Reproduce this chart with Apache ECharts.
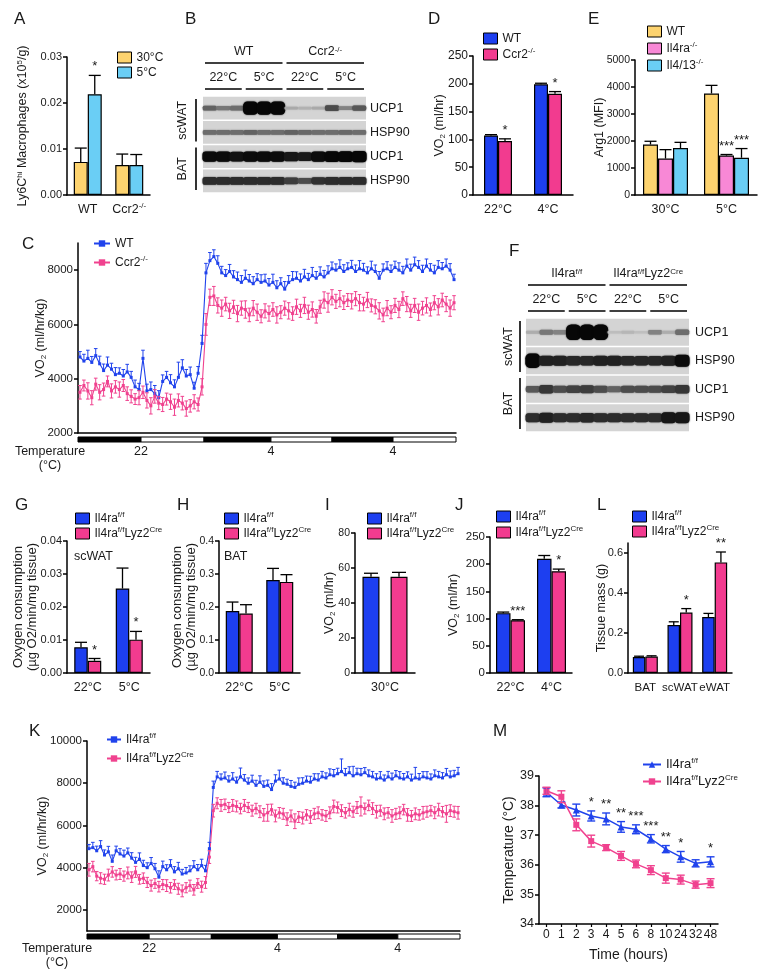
<!DOCTYPE html>
<html><head><meta charset="utf-8">
<script src="https://cdn.jsdelivr.net/npm/echarts@6/dist/echarts.min.js"></script>
<style>html,body{margin:0;padding:0;background:#fff}#c{width:760px;height:978px}</style>
</head><body><div id="c"></div>
<script>
// ================= DATA =================
// Panel A
const A_categories = ['WT', 'Ccr2^{-/-}'];
const A_30C = [0.0072, 0.0065];
const A_30C_err = [0.0030, 0.0024];
const A_5C = [0.0219, 0.0065];
const A_5C_err = [0.0041, 0.0023];
const A_5C_stars = ['*', ''];
const A_ticks = [0, 0.01, 0.02, 0.03];
// Panel D
const D_categories = ['22°C', '4°C'];
const D_WT = [107, 199];
const D_WT_err = [1.5, 2];
const D_Ccr2 = [97, 182];
const D_Ccr2_err = [4, 4];
const D_Ccr2_stars = ['*', '*'];
const D_ticks = [0, 50, 100, 150, 200, 250];
// Panel E
const E_categories = ['30°C', '5°C'];
const E_WT = [1870, 3760];
const E_WT_err = [120, 300];
const E_Il4ra = [1350, 1460];
const E_Il4ra_err = [330, 40];
const E_Il4ra_stars = ['', '***'];
const E_Il413 = [1740, 1380];
const E_Il413_err = [210, 340];
const E_Il413_stars = ['', '***'];
const E_ticks = [0, 1000, 2000, 3000, 4000, 5000];
// Panel G
const G_categories = ['22°C', '5°C'];
const G_ff = [0.0078, 0.0256];
const G_ff_err = [0.0015, 0.0062];
const G_cre = [0.0037, 0.0101];
const G_cre_err = [0.0007, 0.0025];
const G_cre_stars = ['*', '*'];
const G_ticks = [0, 0.01, 0.02, 0.03, 0.04];
// Panel H
const H_categories = ['22°C', '5°C'];
const H_ff = [0.188, 0.282];
const H_ff_err = [0.027, 0.035];
const H_cre = [0.180, 0.276];
const H_cre_err = [0.027, 0.022];
const H_ticks = [0, 0.1, 0.2, 0.3, 0.4];
// Panel I
const I_categories = ['30°C'];
const I_ff = [55];
const I_ff_err = [2];
const I_cre = [55];
const I_cre_err = [2.5];
const I_ticks = [0, 20, 40, 60, 80];
// Panel J
const J_categories = ['22°C', '4°C'];
const J_ff = [110, 210];
const J_ff_err = [2, 6];
const J_cre = [97, 187];
const J_cre_err = [1, 4];
const J_cre_stars = ['***', '*'];
const J_ticks = [0, 50, 100, 150, 200, 250];
// Panel L
const L_categories = ['BAT', 'scWAT', 'eWAT'];
const L_ff = [0.080, 0.240, 0.280];
const L_ff_err = [0.004, 0.016, 0.018];
const L_cre = [0.082, 0.302, 0.553];
const L_cre_err = [0.004, 0.020, 0.052];
const L_cre_stars = ['', '*', '**'];
const L_ticks = [0, 0.2, 0.4, 0.6];
// Panel C (VO2 time course, 96 points)
const C_WT = [
 4800,4650,4750,4600,4850,4550,4300,4500,4350,4150,4200,4100,4250,4050,3700,3600,
 4750,3550,3600,3450,3300,3900,4050,3850,3700,4050,4400,4100,4150,3650,4200,5300,
 7900,8350,8500,8250,7900,7800,7950,7750,7650,7550,7700,7600,7500,7650,7550,7600,
 7450,7550,7350,7500,7300,7550,7650,7700,7600,7750,7650,7800,7700,7850,7750,7900,
 8050,8000,8100,7950,8050,8100,7950,8050,8000,7900,8050,7950,7700,8000,8050,7950,
 8100,8000,7900,8150,8000,8200,8100,7950,8150,8000,7900,8100,8050,8150,8000,7650];
const C_WT_err = [
 200,250,300,220,260,280,240,300,220,260,200,240,280,220,250,230,
 300,250,280,300,260,240,220,300,260,560,300,240,280,220,250,300,
 350,300,250,280,240,220,260,230,280,250,300,240,260,220,280,250,
 240,300,260,220,280,250,300,240,260,280,230,300,250,270,240,260,
 250,230,280,250,220,260,240,300,250,220,280,240,250,230,260,240,
 230,270,240,260,220,280,250,230,260,240,280,250,230,260,240,200];
const C_Ccr2 = [
 3500,3750,3550,3300,3800,3500,3600,3900,3550,3700,3600,3750,3450,3350,3250,3300,
 3500,3200,3000,3350,3100,3050,3250,3150,2950,3200,3100,2900,3000,3150,3050,3700,
 6000,7000,7050,6700,6600,6750,6500,6650,6400,6600,6550,6350,6600,6450,6300,6500,
 6400,6550,6350,6450,6600,6500,6400,6650,6500,6700,6450,6550,6300,6650,6900,6800,
 7000,6850,6950,6800,6900,6850,6950,6800,6750,6900,6700,6650,6500,6350,6600,6450,
 6700,6550,6950,6750,6500,6700,6450,6600,6700,6550,6800,6650,6900,6750,6600,6800];
const C_Ccr2_err = [
 250,200,300,260,220,280,240,200,260,230,280,220,250,240,200,260,
 230,280,300,250,240,260,220,280,300,240,250,280,230,260,240,300,
 400,300,350,280,300,250,280,240,300,260,320,250,280,300,240,260,
 280,250,300,240,260,300,250,280,240,300,260,280,250,240,300,350,
 280,260,300,250,240,280,260,300,250,280,240,260,300,250,280,240,
 260,300,250,280,240,260,300,250,280,240,260,300,250,280,300,260];
const C_ticks = [2000, 4000, 6000, 8000];
// Panel K (VO2 time course, 96 points)
const K_ff = [
 4900,4950,4800,5000,4600,4750,4300,4800,4650,4550,4700,4450,4250,4400,4100,4000,
 4200,3950,3550,4050,3900,4100,3800,3950,3700,3750,3850,4050,3900,4100,3850,4900,
 7800,8300,8200,8250,8100,8200,8050,8300,8150,8000,8100,7900,8050,7850,7900,7700,
 8100,8200,8000,7950,7850,7800,7950,8000,8100,8050,8200,8150,8300,8250,8400,8350,
 8450,8550,8400,8500,8350,8450,8400,8500,8350,8300,8200,8250,8150,8300,8200,8350,
 8250,8200,8300,8150,8250,8200,8300,8250,8200,8350,8300,8250,8400,8300,8350,8450];
const K_ff_err = [
 200,250,220,280,240,260,300,220,250,280,230,260,240,300,250,230,
 280,250,300,260,240,280,250,300,220,260,240,280,250,300,260,300,
 300,260,240,280,250,300,240,420,260,250,280,240,300,260,250,280,
 300,420,260,240,280,250,300,260,240,280,250,300,260,240,280,300,
 260,600,300,280,450,260,300,240,280,260,250,300,240,260,280,250,
 300,260,240,280,500,260,250,300,240,280,260,250,300,280,260,300];
const K_cre = [
 3900,4050,3600,3500,3450,3650,3800,3650,3700,3600,3750,3550,3800,3450,3500,3300,
 3150,3250,3100,3200,3150,3050,3200,3000,2900,3050,3150,2950,3250,3100,3300,4500,
 6700,7050,6950,7000,6850,6950,6900,6800,6950,6850,6700,6800,6650,6500,6600,6750,
 6450,6600,6550,6300,6450,6200,6400,6350,6500,6400,6550,6600,6500,6450,6600,6900,
 6850,6700,6600,6750,6650,6850,6900,6800,6950,6800,6650,6700,6550,6600,6450,6550,
 6600,6750,6500,6450,6550,6500,6600,6650,6700,6600,6750,6650,6550,6700,6650,6600];
const K_cre_err = [
 300,250,220,260,240,280,250,230,260,240,280,250,260,230,250,240,
 260,230,250,240,280,250,230,260,280,240,260,250,230,260,280,300,
 300,260,280,250,240,280,260,250,280,240,260,250,280,300,400,260,
 280,250,260,300,280,350,260,280,250,300,260,280,250,260,280,300,
 260,280,250,300,260,280,450,260,250,280,300,260,280,250,300,260,
 280,250,300,260,280,250,300,260,250,280,300,250,400,280,260,300];
const K_ticks = [2000, 4000, 6000, 8000, 10000];
// light/dark cycle bar (in sample-index units) and temperature labels for C and K
const LD_start = [-0.5, 15.5, 31.5, 48.5, 64, 79.5];
const LD_end = [15.5, 31.5, 48.5, 64, 79.5, 95.5];
const LD_dark = [1, 0, 1, 0, 1, 0];
const TEMP_at = [15.5, 48.5, 79.5];
const TEMP_text = ['22', '4', '4'];
// Panel M
const M_hours = ['0','1','2','3','4','5','6','8','10','24','32','48'];
const M_ff = [38.45, 38.02, 37.85, 37.65, 37.55, 37.28, 37.2, 36.88, 36.53, 36.27, 36.05, 36.1];
const M_ff_err = [0.15, 0.1, 0.2, 0.17, 0.2, 0.18, 0.15, 0.14, 0.12, 0.18, 0.12, 0.17];
const M_cre = [38.5, 38.3, 37.35, 36.8, 36.58, 36.3, 36.03, 35.82, 35.55, 35.5, 35.33, 35.38];
const M_cre_err = [0.12, 0.2, 0.2, 0.2, 0.1, 0.15, 0.13, 0.15, 0.17, 0.15, 0.12, 0.15];
const M_stars = ['', '', '', '*', '**', '**', '***', '***', '**', '*', '', '*'];
const M_ticks = [34, 35, 36, 37, 38, 39];
// Blot B (band intensities 0..1, 12 lanes)
const B_rows = ['UCP1', 'HSP90', 'UCP1', 'HSP90'];
const B_scWAT_UCP1 = [0.45,0.35,0.4,1,1,1,0.12,0.08,0.12,0.55,0.3,0.5];
const B_scWAT_HSP90 = [0.4,0.4,0.4,0.45,0.4,0.4,0.45,0.42,0.4,0.4,0.42,0.4];
const B_BAT_UCP1 = [0.85,0.85,0.82,0.85,0.85,0.85,0.8,0.78,0.85,0.88,0.88,0.9];
const B_BAT_HSP90 = [0.7,0.7,0.7,0.7,0.7,0.7,0.62,0.55,0.68,0.7,0.7,0.7];
const B_genotypes = ['WT', 'Ccr2^{-/-}'];
const B_temps = ['22°C', '5°C', '22°C', '5°C'];
const B_tissues = ['scWAT', 'BAT'];
// Blot F
const F_rows = ['UCP1', 'HSP90', 'UCP1', 'HSP90'];
const F_scWAT_UCP1 = [0.1,0.35,0.3,1,1,1,0.03,0.06,0.02,0.3,0.1,0.4];
const F_scWAT_HSP90 = [0.95,0.75,0.75,0.72,0.72,0.75,0.75,0.72,0.72,0.72,0.75,0.85];
const F_BAT_UCP1 = [0.5,0.65,0.55,0.6,0.62,0.55,0.45,0.55,0.55,0.55,0.6,0.65];
const F_BAT_HSP90 = [0.7,0.75,0.7,0.7,0.72,0.7,0.7,0.7,0.7,0.7,0.8,0.8];
const F_genotypes = ['Il4ra^{f/f}', 'Il4ra^{f/f}Lyz2^{Cre}'];
const F_temps = ['22°C', '5°C', '22°C', '5°C'];
const F_tissues = ['scWAT', 'BAT'];

// ================= STYLE / BUILD =================
const FONT = 'Arial, "Liberation Sans", Helvetica, sans-serif';
const TXT = '#1a1a1a';
const BLUE = '#1d3ff0', PINK = '#f23b8f', ORANGE = '#fdd36f', CYAN = '#6acef5', LPINK = '#f888d6';
const LBLUE = '#2043ec', LPNK = '#f0428f';
const RICH = {
  sup: {fontSize: 8, verticalAlign: 'top', lineHeight: 8, color: TXT, fill: TXT, fontFamily: FONT},
  sub: {fontSize: 8, verticalAlign: 'bottom', lineHeight: 8, color: TXT, fill: TXT, fontFamily: FONT}
};
function rt(s) { return s.replace(/\^\{([^}]*)\}/g, '{sup|$1}').replace(/_\{([^}]*)\}/g, '{sub|$1}'); }
const LABELS = {};
const grid = [], xAxis = [], yAxis = [], series = [], legend = [], graphic = [];
const AXL = {show: true, onZero: false, lineStyle: {color: '#000', width: 1.5}};

function valueY(gi, p) {
  return {type: 'value', gridIndex: gi, min: p.yMin || 0, max: p.yMax, axisLine: AXL,
    axisTick: {show: true, length: 4, lineStyle: {color: '#000', width: 1.5}, customValues: p.ticks},
    axisLabel: {customValues: p.ticks, fontSize: p.tickFont || 11, color: TXT, margin: 5, fontFamily: FONT,
      formatter: p.fmt || (v => String(v))},
    splitLine: {show: false},
    name: rt(p.yName), nameLocation: 'middle', nameRotate: 90, nameGap: p.nameGap, nameMoveOverlap: false,
    nameTextStyle: {fontSize: p.nameFont || 12.5, color: TXT, rich: RICH, lineHeight: 14, fontFamily: FONT}};
}

function errSeries(gi, vals, errs, stars, off, cap, up, down, lw, color) {
  return {type: 'custom', xAxisIndex: gi, yAxisIndex: gi, z: 5, silent: true, clip: false,
    data: vals.map((v, i) => [i, v, errs[i]]),
    renderItem: (params, api) => {
      const i = api.value(0), v = api.value(1), e = api.value(2);
      if (isNaN(e)) return null;
      const c = api.coord([i, v]);
      const x = c[0] + off;
      const yt = api.coord([i, v + e])[1];
      const yb = api.coord([i, v - e])[1];
      const st = {stroke: color || '#000', lineWidth: lw || 1.3};
      const ch = [{type: 'line', shape: {x1: x, y1: up ? yt : c[1], x2: x, y2: down ? yb : c[1]}, style: st}];
      if (up) ch.push({type: 'line', shape: {x1: x - cap, y1: yt, x2: x + cap, y2: yt}, style: st});
      if (down) ch.push({type: 'line', shape: {x1: x - cap, y1: yb, x2: x + cap, y2: yb}, style: st});
      const s = stars && stars[params.dataIndex];
      if (s) ch.push({type: 'text', x: x, y: yt - 2, style: {text: s, fill: TXT, font: '13px ' + FONT, align: 'center', verticalAlign: 'bottom'}});
      return {type: 'group', children: ch};
    }};
}

function addLegend(names, left, top, gap, extra) {
  legend.push(Object.assign({data: names, left: left, top: top, orient: 'vertical', padding: 0, itemGap: gap,
    itemWidth: 14, itemHeight: 11, selectedMode: false, formatter: n => LABELS[n],
    textStyle: {fontSize: 12, color: TXT, fontFamily: FONT, rich: RICH, lineHeight: 15}}, extra || {}));
}

function addBarPanel(p) {
  const gi = grid.length;
  grid.push({left: p.box[0], top: p.box[1], width: p.box[2], height: p.box[3]});
  xAxis.push({type: 'category', gridIndex: gi, data: p.categories, axisLine: AXL, axisTick: {show: false},
    axisLabel: {margin: 7, fontSize: p.catFont || 12.5, color: TXT, fontFamily: FONT, formatter: v => rt(v), rich: RICH, lineHeight: 15, interval: 0}});
  yAxis.push(valueY(gi, p));
  const n = p.series.length, names = [];
  const step = p.step || p.barWidth;
  p.series.forEach((s, k) => {
    const name = p.id + ':' + s.label;
    LABELS[name] = rt(s.label); names.push(name);
    series.push({type: 'bar', name: name, xAxisIndex: gi, yAxisIndex: gi, data: s.values, barWidth: p.barWidth,
      barGap: p.barGap || '0%', silent: true, itemStyle: {color: s.color, borderColor: '#000', borderWidth: 1.2}});
    series.push(errSeries(gi, s.values, s.err, s.stars, (k - (n - 1) / 2) * step, p.cap, true, false));
  });
  addLegend(names, p.legend[0], p.legend[1], p.legend[2], {icon: 'rect', itemStyle: {borderColor: '#000', borderWidth: 1}});
}

function addLinePanel(p) {
  const gi = grid.length;
  grid.push({left: p.box[0], top: p.box[1], width: p.box[2], height: p.box[3]});
  const n = p.series[0].values.length;
  xAxis.push({type: 'value', gridIndex: gi, min: -0.5, max: n - 0.5, axisLine: AXL, axisTick: {show: false}, axisLabel: {show: false}, splitLine: {show: false}});
  yAxis.push(valueY(gi, p));
  const names = [];
  p.series.forEach(s => {
    const name = p.id + ':' + s.label;
    LABELS[name] = rt(s.label); names.push(name);
    series.push({type: 'line', name: name, xAxisIndex: gi, yAxisIndex: gi, data: s.values.map((v, i) => [i, v]),
      symbol: s.symbol, symbolSize: s.symbolSize, showSymbol: true, silent: true, z: 3,
      lineStyle: {color: s.color, width: 1.1}, itemStyle: {color: s.color}});
    series.push(errSeries(gi, s.values, s.err, null, 0, 1.8, s.up, s.down, 1, s.color));
  });
  const base = {type: 'custom', xAxisIndex: gi, yAxisIndex: gi, silent: true, clip: false, z: 4};
  series.push(Object.assign({}, base, {data: LD_start.map((s, i) => [s, p.yMin, LD_end[i], LD_dark[i]]),
    renderItem: (params, api) => {
      const a = api.coord([api.value(0), p.yMin]), b = api.coord([api.value(2), p.yMin]);
      return {type: 'rect', shape: {x: a[0], y: a[1] + p.ldOff, width: b[0] - a[0], height: 5},
        style: {fill: api.value(3) ? '#000' : '#fff', stroke: '#000', lineWidth: 1}};
    }}));
  series.push(Object.assign({}, base, {data: TEMP_at.map(v => [v, p.yMin]),
    renderItem: (params, api) => {
      const a = api.coord([api.value(0), p.yMin]);
      return {type: 'text', x: a[0], y: a[1] + p.tOff, style: {text: TEMP_text[params.dataIndex], fill: TXT,
        font: '12.5px ' + FONT, align: 'center', verticalAlign: 'middle'}};
    }}));
  addLegend(names, p.legend[0], p.legend[1], p.legend[2], {itemWidth: p.legend[3], itemHeight: 8});
}

function addBlot(p) {
  const gi = grid.length;
  grid.push({left: p.box[0], top: p.box[1], width: p.box[2], height: p.box[3]});
  const lanes = p.bands[0].length;
  xAxis.push({type: 'value', gridIndex: gi, min: 0, max: lanes, show: false});
  yAxis.push({type: 'category', gridIndex: gi, data: p.rows, inverse: true, position: 'right',
    axisLine: {show: false}, axisTick: {show: false}, splitLine: {show: false},
    axisLabel: {margin: p.labelMargin, fontSize: 12.5, color: TXT, fontFamily: FONT}});
  const base = {type: 'custom', xAxisIndex: gi, yAxisIndex: gi, silent: true, clip: false};
  series.push(Object.assign({}, base, {z: 1, data: p.rows.map((r, i) => [0, i]),
    renderItem: (params, api) => {
      const c0 = api.coord([0, api.value(1)]), c1 = api.coord([lanes, api.value(1)]);
      const h = api.size([0, 1])[1];
      return {type: 'rect', shape: {x: c0[0], y: c0[1] - h / 2 + 0.8, width: c1[0] - c0[0], height: h - 1.6}, style: {fill: '#d4d4d4'}};
    }}));
  const bands = [];
  p.bands.forEach((arr, r) => arr.forEach((v, l) => bands.push([l, r, v])));
  series.push(Object.assign({}, base, {z: 2, data: bands,
    renderItem: (params, api) => {
      const c = api.coord([api.value(0) + 0.5, api.value(1)]);
      const lw = api.size([1, 0])[0], rh = api.size([0, 1])[1];
      const it = api.value(2);
      const h = rh * (0.09 + 0.2 * it + 0.26 * it * it * it), w = lw * (0.98 + 0.12 * it);
      const g = Math.round(195 - 188 * Math.min(1, it * 1.15));
      const col = 'rgb(' + g + ',' + g + ',' + g + ')';
      return {type: 'rect', shape: {x: c[0] - w / 2, y: c[1] - h / 2, width: w, height: h, r: h / 3},
        style: {fill: col, shadowBlur: 1.5, shadowColor: col}};
    }}));
  const heads = [], headTexts = [];
  const gs = lanes / p.genotypes.length, ts = lanes / p.temps.length;
  p.genotypes.forEach((g, i) => { heads.push([i * gs, 0, (i + 1) * gs, 1]); headTexts.push(rt(g)); });
  p.temps.forEach((t, i) => { heads.push([i * ts, 0, (i + 1) * ts, 0]); headTexts.push(t); });
  series.push(Object.assign({}, base, {z: 3, data: heads,
    renderItem: (params, api) => {
      const top = params.coordSys.y;
      const a = api.coord([api.value(0), 0])[0], b = api.coord([api.value(2), 0])[0];
      const lv = api.value(3);
      const ly = top - (lv ? 33 : 7), ty = top - (lv ? 44 : 18);
      return {type: 'group', children: [
        {type: 'line', shape: {x1: a + 2, y1: ly, x2: b - 2, y2: ly}, style: {stroke: '#000', lineWidth: 1.3}},
        {type: 'text', x: (a + b) / 2, y: ty, style: {text: headTexts[params.dataIndex], rich: RICH, fill: TXT,
          font: '12.5px ' + FONT, align: 'center', verticalAlign: 'middle'}}]};
    }}));
  series.push(Object.assign({}, base, {z: 3, data: p.tissues.map((t, k) => [0, 2 * k]),
    renderItem: (params, api) => {
      const k = params.dataIndex;
      const rh = api.size([0, 1])[1];
      const y0 = api.coord([0, 2 * k])[1] - rh / 2 + 3, y1 = api.coord([0, 2 * k + 1])[1] + rh / 2 - 3;
      const x = params.coordSys.x;
      return {type: 'group', children: [
        {type: 'line', shape: {x1: x - p.sideLine, y1: y0, x2: x - p.sideLine, y2: y1}, style: {stroke: '#000', lineWidth: 1.6}},
        {type: 'text', x: x - p.sideText, y: (y0 + y1) / 2, rotation: Math.PI / 2,
          style: {text: p.tissues[k], fill: TXT, font: '12.5px ' + FONT, align: 'center', verticalAlign: 'middle'}}]};
    }}));
}

// ---- panels ----
addBarPanel({id: 'A', box: [67, 57, 83, 138], categories: A_categories, yMax: 0.03, ticks: A_ticks, fmt: v => v.toFixed(2),
  tickFont: 11, yName: 'Ly6C^{hi} Macrophages (x10^{5}/g)', nameGap: 37, barWidth: 14, cap: 6, legend: [117, 50, 0],
  series: [{label: '30°C', color: ORANGE, values: A_30C, err: A_30C_err},
           {label: '5°C', color: CYAN, values: A_5C, err: A_5C_err, stars: A_5C_stars}]});
addBarPanel({id: 'D', box: [473, 56, 100, 139], categories: D_categories, yMax: 250, ticks: D_ticks,
  tickFont: 12, yName: 'VO_{2} (ml/hr)', nameGap: 26, barWidth: 14, cap: 6, legend: [483, 31, 1],
  series: [{label: 'WT', color: BLUE, values: D_WT, err: D_WT_err},
           {label: 'Ccr2^{-/-}', color: PINK, values: D_Ccr2, err: D_Ccr2_err, stars: D_Ccr2_stars}]});
addBarPanel({id: 'E', box: [635, 60, 122, 135], categories: E_categories, yMax: 5000, ticks: E_ticks,
  tickFont: 10.5, yName: 'Arg1 (MFI)', nameGap: 28, barWidth: 15, cap: 6, legend: [647, 24, 2],
  series: [{label: 'WT', color: ORANGE, values: E_WT, err: E_WT_err},
           {label: 'Il4ra^{-/-}', color: LPINK, values: E_Il4ra, err: E_Il4ra_err, stars: E_Il4ra_stars},
           {label: 'Il4/13^{-/-}', color: CYAN, values: E_Il413, err: E_Il413_err, stars: E_Il413_stars}]});
addLinePanel({id: 'C', box: [78, 243, 378, 190], yMin: 2000, yMax: 9000, ticks: C_ticks, yName: 'VO_{2} (ml/hr/kg)',
  tickFont: 11.5, nameGap: 30, ldOff: 4, tOff: 19, legend: [93, 236, 4, 16],
  series: [{label: 'WT', color: LBLUE, values: C_WT, err: C_WT_err, symbol: 'rect', symbolSize: 3, up: true, down: false},
           {label: 'Ccr2^{-/-}', color: LPNK, values: C_Ccr2, err: C_Ccr2_err, symbol: 'rect', symbolSize: 3, up: true, down: true}]});
addBarPanel({id: 'G', box: [67, 541, 83, 132], categories: G_categories, yMax: 0.04, ticks: G_ticks, fmt: v => v.toFixed(2),
  tickFont: 11, yName: 'Oxygen consumption\n(µg O2/min/mg tissue)', nameGap: 28, nameFont: 13, barWidth: 13.5, cap: 6, legend: [75, 511, 0],
  series: [{label: 'Il4ra^{f/f}', color: BLUE, values: G_ff, err: G_ff_err},
           {label: 'Il4ra^{f/f}Lyz2^{Cre}', color: PINK, values: G_cre, err: G_cre_err, stars: G_cre_stars}]});
addBarPanel({id: 'H', box: [219, 541, 81, 132], categories: H_categories, yMax: 0.4, ticks: H_ticks, fmt: v => v.toFixed(1),
  tickFont: 10.5, yName: 'Oxygen consumption\n(µg O2/min/mg tissue)', nameGap: 21, nameFont: 13, barWidth: 13.5, cap: 6, legend: [224, 511, 0],
  series: [{label: 'Il4ra^{f/f}', color: BLUE, values: H_ff, err: H_ff_err},
           {label: 'Il4ra^{f/f}Lyz2^{Cre}', color: PINK, values: H_cre, err: H_cre_err}]});
addBarPanel({id: 'I', box: [355, 533, 60, 140], categories: I_categories, yMax: 80, ticks: I_ticks,
  tickFont: 10.5, yName: 'VO_{2} (ml/hr)', nameGap: 18, barWidth: 17, barGap: '65%', step: 28, cap: 7, legend: [367, 511, 0],
  series: [{label: 'Il4ra^{f/f}', color: BLUE, values: I_ff, err: I_ff_err},
           {label: 'Il4ra^{f/f}Lyz2^{Cre}', color: PINK, values: I_cre, err: I_cre_err}]});
addBarPanel({id: 'J', box: [490, 537, 82, 136], categories: J_categories, yMax: 250, ticks: J_ticks,
  tickFont: 11.5, yName: 'VO_{2} (ml/hr)', nameGap: 29, barWidth: 14.5, cap: 6, legend: [496, 509, 1],
  series: [{label: 'Il4ra^{f/f}', color: BLUE, values: J_ff, err: J_ff_err},
           {label: 'Il4ra^{f/f}Lyz2^{Cre}', color: PINK, values: J_cre, err: J_cre_err, stars: J_cre_stars}]});
addBarPanel({id: 'L', box: [628, 543, 104, 130], categories: L_categories, yMax: 0.65, ticks: L_ticks, fmt: v => v.toFixed(1),
  tickFont: 11, yName: 'Tissue mass (g)', nameGap: 19, barWidth: 12.5, cap: 5, catFont: 11.5, legend: [632, 509, 0],
  series: [{label: 'Il4ra^{f/f}', color: BLUE, values: L_ff, err: L_ff_err},
           {label: 'Il4ra^{f/f}Lyz2^{Cre}', color: PINK, values: L_cre, err: L_cre_err, stars: L_cre_stars}]});
addLinePanel({id: 'K', box: [87, 741, 373, 190], yMin: 1000, yMax: 10000, ticks: K_ticks, yName: 'VO_{2} (ml/hr/kg)',
  tickFont: 11.5, nameGap: 37, ldOff: 3, tOff: 18, legend: [106, 732, 4, 14],
  series: [{label: 'Il4ra^{f/f}', color: LBLUE, values: K_ff, err: K_ff_err, symbol: 'rect', symbolSize: 3, up: true, down: false},
           {label: 'Il4ra^{f/f}Lyz2^{Cre}', color: LPNK, values: K_cre, err: K_cre_err, symbol: 'rect', symbolSize: 3, up: true, down: true}]});

// Panel M
(function () {
  const gi = grid.length;
  grid.push({left: 539, top: 776, width: 179, height: 148});
  xAxis.push({type: 'category', gridIndex: gi, data: M_hours, boundaryGap: true, axisLine: AXL,
    axisTick: {show: true, alignWithLabel: true, length: 3, lineStyle: {color: '#000', width: 1.2}},
    axisLabel: {margin: 5, fontSize: 12, color: TXT, fontFamily: FONT, interval: 0},
    name: 'Time (hours)', nameLocation: 'middle', nameGap: 24, nameMoveOverlap: false,
    nameTextStyle: {fontSize: 14, color: TXT, fontFamily: FONT}});
  yAxis.push(valueY(gi, {yMin: 34, yMax: 39, ticks: M_ticks, yName: 'Temperature (°C)', nameGap: 23, nameFont: 14, tickFont: 12.5}));
  const defs = [
    {label: 'Il4ra^{f/f}', color: LBLUE, values: M_ff, err: M_ff_err, symbol: 'triangle', size: 7, stars: M_stars},
    {label: 'Il4ra^{f/f}Lyz2^{Cre}', color: LPNK, values: M_cre, err: M_cre_err, symbol: 'rect', size: 6, stars: null}];
  const names = [];
  defs.forEach(s => {
    const name = 'M:' + s.label; LABELS[name] = rt(s.label); names.push(name);
    series.push({type: 'line', name: name, xAxisIndex: gi, yAxisIndex: gi, data: s.values, symbol: s.symbol, symbolSize: s.size,
      silent: true, z: 3, lineStyle: {color: s.color, width: 1.5}, itemStyle: {color: s.color}});
    series.push(errSeries(gi, s.values, s.err, s.stars, 0, 4, true, true, 1.4, s.color));
  });
  addLegend(names, 642, 757, 2, {itemWidth: 18, itemHeight: 8, textStyle: {fontSize: 13, color: TXT, fontFamily: FONT, rich: RICH, lineHeight: 15}});
})();

addBlot({box: [203, 96, 163, 97], rows: B_rows, bands: [B_scWAT_UCP1, B_scWAT_HSP90, B_BAT_UCP1, B_BAT_HSP90],
  genotypes: B_genotypes, temps: B_temps, tissues: B_tissues, labelMargin: 4, sideLine: 7, sideText: 20});
addBlot({box: [526, 318, 163, 114], rows: F_rows, bands: [F_scWAT_UCP1, F_scWAT_HSP90, F_BAT_UCP1, F_BAT_HSP90],
  genotypes: F_genotypes, temps: F_temps, tissues: F_tissues, labelMargin: 6, sideLine: 6, sideText: 17});

// ---- text annotations ----
[['A', 14, 11], ['B', 185, 11], ['D', 428, 11], ['E', 588, 11], ['C', 22, 236], ['F', 509, 243],
 ['G', 15, 497], ['H', 177, 497], ['I', 325, 497], ['J', 455, 497], ['L', 597, 497], ['K', 29, 723], ['M', 493, 723]]
 .forEach(l => graphic.push({type: 'text', left: l[1], top: l[2], style: {text: l[0], font: '17px ' + FONT, fill: TXT}}));
[[50, 452, 'Temperature'], [50, 466, '(°C)'], [57, 949, 'Temperature'], [57, 963, '(°C)']]
 .forEach(t => graphic.push({type: 'text', x: t[0], y: t[1], style: {text: t[2], font: '12.5px ' + FONT, fill: TXT, align: 'center', verticalAlign: 'middle'}}));
graphic.push({type: 'text', x: 74, y: 557, style: {text: 'scWAT', font: '12.5px ' + FONT, fill: TXT, verticalAlign: 'middle'}});
graphic.push({type: 'text', x: 224, y: 557, style: {text: 'BAT', font: '12.5px ' + FONT, fill: TXT, verticalAlign: 'middle'}});

const chart = echarts.init(document.getElementById('c'), null, {renderer: 'canvas'});
chart.setOption({animation: false, backgroundColor: '#fff', textStyle: {fontFamily: FONT},
  grid: grid, xAxis: xAxis, yAxis: yAxis, series: series, legend: legend, graphic: graphic});
</script></body></html>
